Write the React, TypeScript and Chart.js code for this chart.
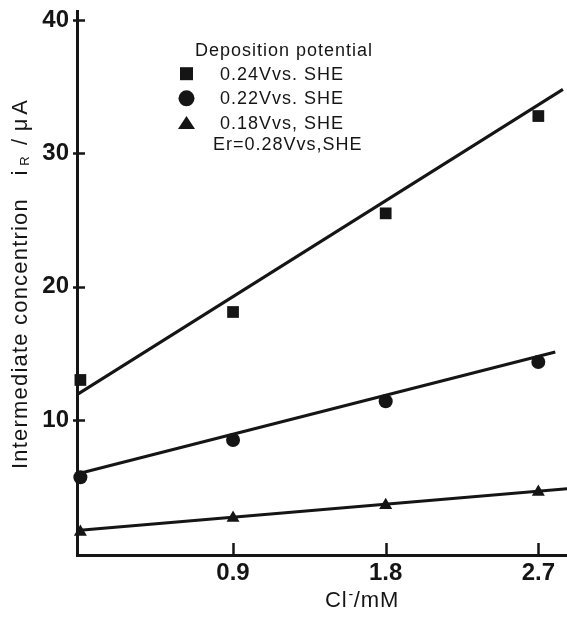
import React, { useEffect, useRef } from 'react';
import { Chart, registerables } from 'chart.js';

Chart.register(...registerables);

// ---- data ----
const chlorideMM = [0, 0.9, 1.8, 2.7];
const current024 = [13.0, 18.1, 25.5, 32.8];
const current022 = [5.7, 8.5, 11.4, 14.35];
const current018 = [1.6, 2.65, 3.6, 4.6];

const fitX024 = [-0.02, 2.845];
const fitY024 = [11.9, 34.8];
const fitX022 = [-0.02, 2.8];
const fitY022 = [5.95, 15.1];
const fitX018 = [-0.02, 2.87];
const fitY018 = [1.7, 4.85];

const seriesLabels = ['0.24Vvs. SHE', '0.22Vvs. SHE', '0.18Vvs, SHE'];
const seriesStyles = ['rect', 'circle', 'triangle'];
const xTickValues = [0.9, 1.8, 2.7];
const yTickValues = [10, 20, 30, 40];
const legendTitle = 'Deposition potential';
const legendNote = 'Er=0.28Vvs,SHE';
const yTitleMain = 'Intermediate concentrion';
const xTitleParts = ['Cl', '-', '/mM'];

const INK = '#151515';
const FONT = "'Liberation Sans', Arial, Helvetica, sans-serif";

const toPoints = (xs: number[], ys: number[]) => xs.map((x, i) => ({ x, y: ys[i] }));

const overlayPlugin = {
  id: 'overlay',
  afterDraw(chart: any) {
    const ctx: CanvasRenderingContext2D = chart.ctx;
    const xs = chart.scales.x;
    const ys = chart.scales.y;
    const ca = chart.chartArea;
    ctx.save();
    ctx.strokeStyle = INK;
    ctx.fillStyle = INK;
    ctx.lineWidth = 2.5;
    ctx.lineCap = 'butt';
    // inward tick marks
    ys.ticks.forEach((t: any) => {
      const py = Math.round(ys.getPixelForValue(t.value)) + 0.5;
      ctx.beginPath();
      ctx.moveTo(ca.left - 4, py);
      ctx.lineTo(ca.left + 8, py);
      ctx.stroke();
    });
    xs.ticks.forEach((t: any) => {
      const px = Math.round(xs.getPixelForValue(t.value)) + 0.5;
      ctx.beginPath();
      ctx.moveTo(px, ca.bottom);
      ctx.lineTo(px, ca.bottom - 12);
      ctx.stroke();
    });

    // legend
    (ctx as any).letterSpacing = '1px';
    ctx.font = `18px ${FONT}`;
    ctx.textBaseline = 'alphabetic';
    ctx.textAlign = 'left';
    ctx.fillText(legendTitle, 195, 56);
    const rows = [79.5, 104, 128.5];
    const markerCy = [73.7, 98.3, 123];
    seriesLabels.forEach((lab, i) => {
      const cx = 186.5;
      const cy = markerCy[i];
      const st = seriesStyles[i];
      ctx.beginPath();
      if (st === 'rect') {
        ctx.rect(cx - 6.5, cy - 6.5, 13, 13);
      } else if (st === 'circle') {
        ctx.arc(cx, cy, 8, 0, Math.PI * 2);
      } else {
        ctx.moveTo(cx, cy - 7);
        ctx.lineTo(cx + 8.5, cy + 6);
        ctx.lineTo(cx - 8.5, cy + 6);
        ctx.closePath();
      }
      ctx.fill();
      ctx.fillText(lab, 220, rows[i]);
    });
    ctx.fillText(legendNote, 213, 150);

    // y axis title (rotated)
    ctx.font = `22px ${FONT}`;
    (ctx as any).letterSpacing = '1.2px';
    ctx.save();
    ctx.translate(27, 469);
    ctx.rotate(-Math.PI / 2);
    ctx.textAlign = 'left';
    ctx.fillText(yTitleMain, 0, 0);
    ctx.restore();
    (ctx as any).letterSpacing = '0px';
    const rotText = (txt: string, x: number, y: number, font: string) => {
      ctx.save();
      ctx.font = font;
      ctx.translate(x, y);
      ctx.rotate(-Math.PI / 2);
      ctx.textAlign = 'center';
      ctx.fillText(txt, 0, 0);
      ctx.restore();
    };
    rotText('i', 27, 173, `22px ${FONT}`);
    rotText('R', 29, 161, `13px ${FONT}`);
    rotText('/', 27, 142, `22px ${FONT}`);
    rotText('\u03bc', 27, 125, `22px ${FONT}`);
    rotText('A', 27, 107.5, `22px ${FONT}`);

    // x axis title
    (ctx as any).letterSpacing = '0.8px';
    ctx.textAlign = 'left';
    let x = 325;
    ctx.font = `22px ${FONT}`;
    ctx.fillText(xTitleParts[0], x, 607);
    x += ctx.measureText(xTitleParts[0]).width + 1;
    ctx.font = `14px ${FONT}`;
    ctx.fillText(xTitleParts[1], x, 599);
    x += ctx.measureText(xTitleParts[1]).width;
    ctx.font = `22px ${FONT}`;
    ctx.fillText(xTitleParts[2], x, 607);
    (ctx as any).letterSpacing = '0px';
    ctx.restore();
  },
};

export default function App() {
  const ref = useRef<HTMLCanvasElement | null>(null);
  useEffect(() => {
    if (!ref.current) return;
    Chart.defaults.font.family = FONT;
    const pointDs = (ys: number[], i: number, r: number) => ({
      type: 'scatter' as const,
      label: seriesLabels[i],
      data: toPoints(chlorideMM, ys),
      pointStyle: seriesStyles[i],
      pointRadius: r,
      pointHoverRadius: r,
      pointBackgroundColor: INK,
      pointBorderColor: INK,
      pointBorderWidth: 0,
      showLine: false,
      clip: false as any,
    });
    const lineDs = (xs: number[], ys: number[]) => ({
      type: 'scatter' as const,
      label: 'fit',
      data: toPoints(xs, ys),
      showLine: true,
      borderColor: INK,
      borderWidth: 3,
      pointRadius: 0,
      pointHoverRadius: 0,
      fill: false,
      clip: false as any,
    });
    const chart = new Chart(ref.current, {
      type: 'scatter',
      data: {
        datasets: [
          lineDs(fitX024, fitY024),
          lineDs(fitX022, fitY022),
          lineDs(fitX018, fitY018),
          pointDs(current024, 0, 8.3),
          pointDs(current022, 1, 7),
          pointDs(current018, 2, 7.5),
        ] as any,
      },
      options: {
        animation: false,
        responsive: false,
        devicePixelRatio: 1,
        layout: { autoPadding: false, padding: { top: 11, right: 0, left: 0, bottom: 0 } },
        plugins: {
          legend: { display: false },
          title: { display: false },
          tooltip: { enabled: false },
        },
        scales: {
          x: {
            type: 'linear',
            min: -0.02,
            max: 2.869,
            afterBuildTicks: (s: any) => {
              s.ticks = xTickValues.map((v) => ({ value: v }));
            },
            afterFit: (s: any) => {
              s.height = 62;
              s.paddingLeft = 0;
              s.paddingRight = 0;
            },
            grid: {
              drawOnChartArea: false,
              drawTicks: true,
              tickLength: 9,
              tickColor: 'rgba(0,0,0,0)',
            },
            border: { display: true, color: INK, width: 3 },
            ticks: {
              padding: 0,
              color: INK,
              font: { size: 24, weight: 'bold', lineHeight: 0.8 },
              maxRotation: 0,
              autoSkip: false,
              callback: (v: any) => Number(v).toFixed(1),
            },
            title: { display: false },
          },
          y: {
            type: 'linear',
            min: -0.13,
            max: 40.68,
            afterBuildTicks: (s: any) => {
              s.ticks = yTickValues.map((v) => ({ value: v }));
            },
            afterFit: (s: any) => {
              s.width = 77;
              s.paddingTop = 0;
              s.paddingBottom = 0;
            },
            grid: {
              drawOnChartArea: false,
              drawTicks: true,
              tickLength: 8,
              tickColor: 'rgba(0,0,0,0)',
            },
            border: { display: true, color: INK, width: 3 },
            ticks: {
              padding: 0,
              color: INK,
              font: { size: 24, weight: 'bold', lineHeight: 0.8 },
              autoSkip: false,
              callback: (v: any) => String(v),
            },
            title: { display: false },
          },
        },
      } as any,
      plugins: [overlayPlugin],
    });
    return () => chart.destroy();
  }, []);
  return (
    <div style={{ position: 'absolute', left: 0, top: 0, width: 567, height: 617, background: '#fff' }}>
      <canvas ref={ref} width={567} height={617} style={{ display: 'block', width: 567, height: 617 }} />
    </div>
  );
}
